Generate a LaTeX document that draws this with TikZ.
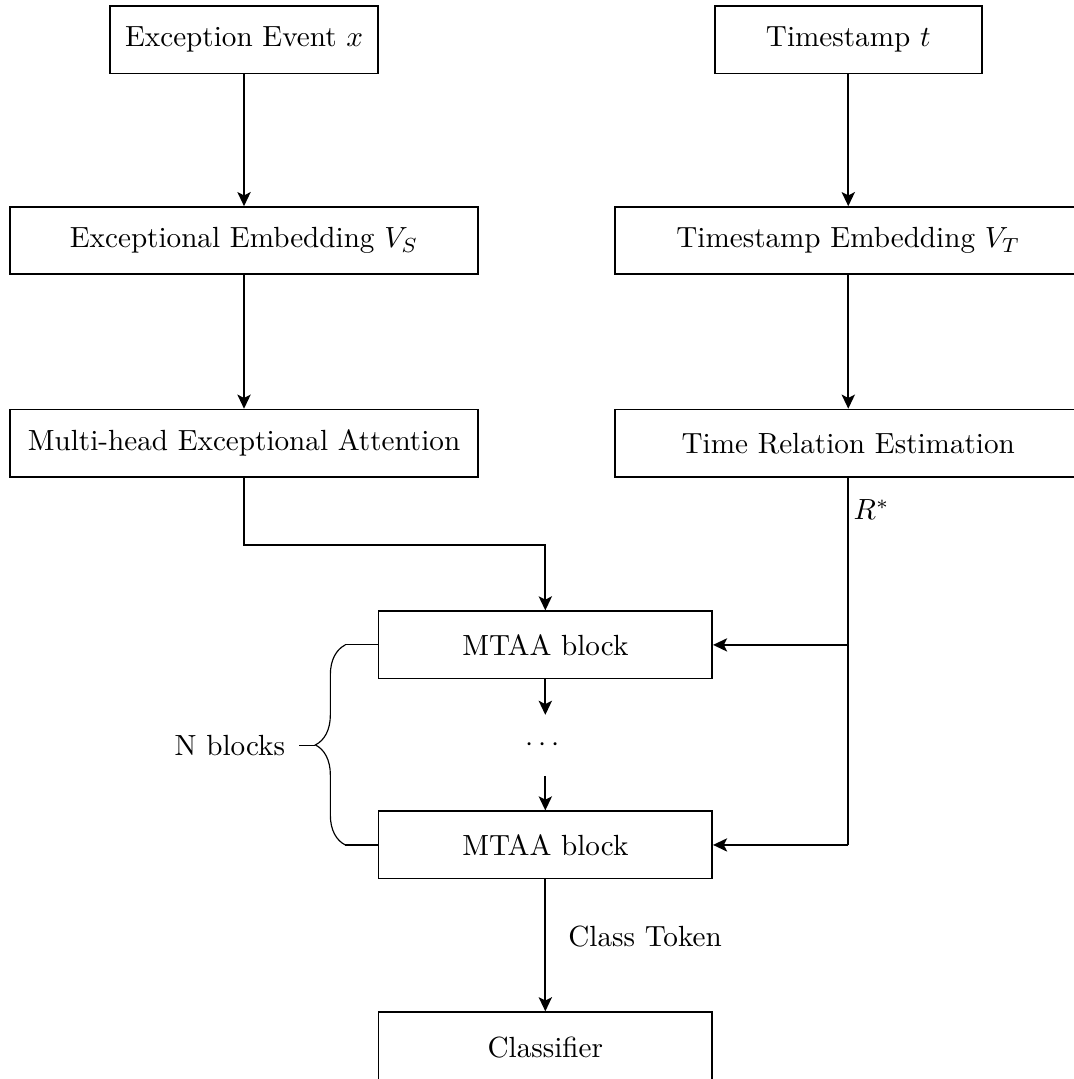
\documentclass[tikz,border=0pt]{standalone}
\usepackage{amssymb}
\usepackage{amsmath}
\usetikzlibrary{arrows.meta,decorations.pathreplacing}

\begin{document}
\begin{tikzpicture}[scale = 1,
  blockbox/.style = {draw, semithick, minimum height = 0.81cm, inner sep = 0pt},
  arr/.style = {semithick, -{Stealth[length = 1.7mm, width = 1.6mm, inset = 0.4mm]}}]
\useasboundingbox (0.0, 0.0) rectangle (12.93, -13.0);
\node[blockbox, minimum width = 3.23cm] (ev) at (2.94, -0.48){Exception Event $x$};
\node[blockbox, minimum width = 3.22cm] (ts) at (10.22, -0.48){Timestamp $t$};
\node[blockbox, minimum width = 5.63cm] (emb) at (2.94, -2.90){Exceptional Embedding $V_S$};
\node[blockbox, minimum width = 5.63cm] (temb) at (10.22, -2.90){Timestamp Embedding $V_T$};
\node[blockbox, minimum width = 5.63cm] (att) at (2.94, -5.34){Multi-head Exceptional Attention};
\node[blockbox, minimum width = 5.63cm] (rel) at (10.22, -5.34){Time Relation Estimation};
\node[blockbox, minimum width = 4.02cm] (blk1) at (6.57, -7.77){MTAA block};
\node[minimum height = 0.72cm, inner sep = 0pt] (dots) at (6.57, -8.98){$\cdots$};
\node[blockbox, minimum width = 4.02cm] (blk2) at (6.57, -10.18){MTAA block};
\node[blockbox, minimum width = 4.02cm, minimum height = 0.85cm] (cls) at (6.57, -12.62){Classifier};
\node (nb) at (2.77, -8.98){N blocks};
\node (rs) at (10.50, -6.14){$R^{*}$};
\coordinate (bend) at (6.57, -6.57);
\coordinate (j1) at (rel.south |- blk1.east);
\coordinate (j2) at (rel.south |- blk2.east);
\coordinate (b1) at (4.16, -7.77);
\coordinate (b2) at (4.16, -10.18);
\draw[arr] (ev) -- (emb);
\draw[arr] (emb) -- (att);
\draw[arr] (ts) -- (temb);
\draw[arr] (temb) -- (rel);
\draw[arr] (att.south) |- (bend) -- (blk1.north);
\draw[semithick] (rel.south) -- (j2);
\draw[arr] (j1) -- (blk1.east);
\draw[arr] (j2) -- (blk2.east);
\draw[arr] (blk1) -- (dots);
\draw[arr] (dots) -- (blk2);
\draw[arr] (blk2) -- node[pos = 0.43, right, xshift = 0.15cm]{Class Token} (cls);
\draw[thin] (blk1.west) -- (b1);
\draw[thin] (blk2.west) -- (b2);
\draw[thin, decorate, decoration = {brace, amplitude = 0.36cm}] (b2) -- (b1);
\draw[thin] (3.80, -8.98) -- (3.60, -8.98);
\end{tikzpicture}
\end{document}
